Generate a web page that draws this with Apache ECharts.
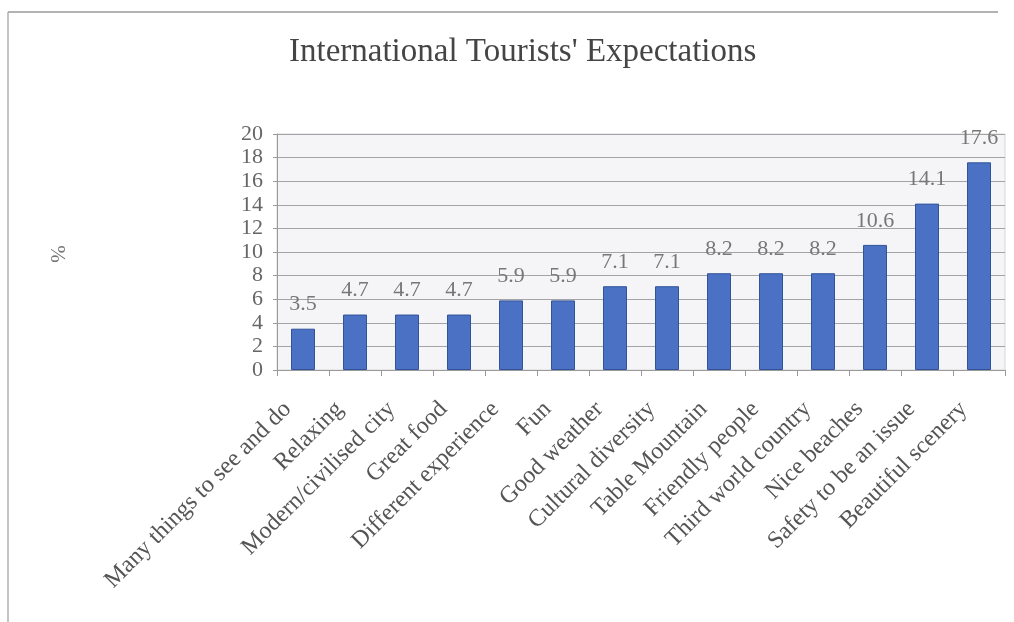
<!DOCTYPE html>
<html>
<head>
<meta charset="utf-8">
<script src="https://cdn.jsdelivr.net/npm/echarts@6/dist/echarts.min.js"></script>
<style>
  html, body { margin: 0; padding: 0; background: #ffffff; }
  #chart { width: 1014px; height: 622px; }
</style>
</head>
<body>
<div id="chart"></div>
<script>
// Share of respondents (%) naming each expectation
const categories = [
  'Many things to see and do', 'Relaxing', 'Modern/civilised city', 'Great food',
  'Different experience', 'Fun', 'Good weather', 'Cultural diversity',
  'Table Mountain', 'Friendly people', 'Third world country', 'Nice beaches',
  'Safety to be an issue', 'Beautiful scenery'
];
const percentValues = [3.5, 4.7, 4.7, 4.7, 5.9, 5.9, 7.1, 7.1, 8.2, 8.2, 8.2, 10.6, 14.1, 17.6];
const yTicks = { min: 0, max: 20, interval: 2 };

const serif = '"Liberation Serif", "DejaVu Serif", serif';
const chart = echarts.init(document.getElementById('chart'));

chart.setOption({
  backgroundColor: '#ffffff',
  animation: false,
  title: {
    text: "International Tourists' Expectations",
    left: 284,
    top: 31,
    textStyle: { fontFamily: serif, fontSize: 33, fontWeight: 'normal', color: '#454545' }
  },
  graphic: [
    // outer frame (top and left edges)
    { type: 'line', shape: { x1: 8, y1: 12, x2: 998, y2: 12 }, style: { stroke: '#9a9a9a', lineWidth: 1.5 } },
    { type: 'line', shape: { x1: 8, y1: 12, x2: 8, y2: 622 }, style: { stroke: '#b0b0b0', lineWidth: 1.5 } },
    // axis name, turned clockwise
    {
      type: 'text', x: 57, y: 254, rotation: -Math.PI / 2,
      style: { text: '%', fontFamily: serif, fontSize: 21, fill: '#777777', align: 'center', verticalAlign: 'middle' }
    }
  ],
  grid: {
    left: 277, right: 9, top: 134, bottom: 252,
    show: true, backgroundColor: '#f5f5f8', borderColor: '#d6d6da', borderWidth: 1
  },
  xAxis: {
    type: 'category',
    data: categories,
    axisLine: { lineStyle: { color: '#9a9a9a', width: 1 } },
    axisTick: { show: true, length: 6, lineStyle: { color: '#9a9a9a' } },
    axisLabel: {
      rotate: 45, interval: 0, margin: 20,
      padding: [0, 22, 0, 0],
      fontFamily: serif, fontSize: 24, color: '#555555'
    }
  },
  yAxis: {
    type: 'value',
    min: yTicks.min, max: yTicks.max, interval: yTicks.interval,
    axisLine: { show: true, lineStyle: { color: '#9a9a9a' } },
    axisTick: { show: true, length: 4, lineStyle: { color: '#9a9a9a' } },
    axisLabel: { fontFamily: serif, fontSize: 22, color: '#666666', margin: 14 },
    splitLine: { lineStyle: { color: '#a4a4a6', width: 1 } }
  },
  series: [{
    type: 'bar',
    data: percentValues,
    barWidth: 24,
    itemStyle: { color: '#4a71c3', borderColor: '#32539a', borderWidth: 1 },
    label: {
      show: true, position: 'top', distance: 13,
      fontFamily: serif, fontSize: 22, color: '#777777'
    }
  }]
});
</script>
</body>
</html>
